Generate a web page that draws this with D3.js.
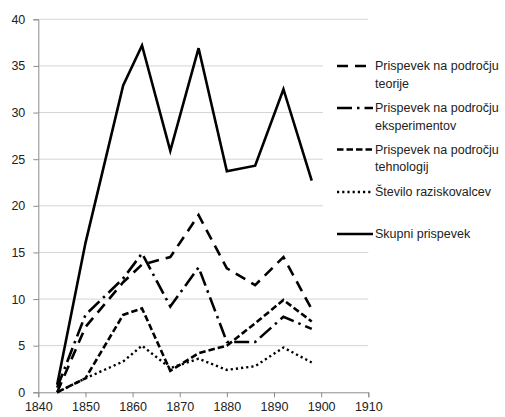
<!DOCTYPE html>
<html>
<head>
<meta charset="utf-8">
<script src="https://cdn.jsdelivr.net/npm/d3@7"></script>
<style>
  body { margin: 0; background: #fff; }
  svg { display: block; }
  text { font-family: "Liberation Sans", Arial, sans-serif; fill: #222; }
</style>
</head>
<body>
<div id="chart"><svg></svg></div>
<script>
// --- DATA ---
const years = [1844, 1850, 1858, 1862, 1868, 1874, 1880, 1886, 1892, 1898];
const teorije = [0, 7.0, 11.8, 13.7, 14.5, 19.0, 13.3, 11.5, 14.5, 8.9];
const eksperimentov = [0.5, 8.3, 12.2, 14.9, 9.2, 13.4, 5.4, 5.4, 8.1, 6.8];
const tehnologij = [0, 1.5, 8.3, 9.0, 2.3, 4.2, 5.0, 7.4, 9.9, 7.6];
const raziskovalci = [0, 1.5, 3.3, 5.0, 2.6, 3.6, 2.4, 2.8, 4.8, 3.2];
const skupni = [0.8, 16.0, 32.9, 37.2, 25.9, 36.9, 23.7, 24.3, 32.5, 22.7];

const seriesNames = [
  ["Prispevek na področju", "teorije"],
  ["Prispevek na področju", "eksperimentov"],
  ["Prispevek na področju", "tehnologij"],
  ["Število raziskovalcev"],
  ["Skupni prispevek"]
];
const xTicks = [1840, 1850, 1860, 1870, 1880, 1890, 1900, 1910];
const yTicks = [0, 5, 10, 15, 20, 25, 30, 35, 40];

// --- SETUP ---
const width = 505, height = 417;
const margin = { top: 19.3, right: 136.7, bottom: 24.7, left: 38.3 };

const svg = d3.select("#chart svg")
  .attr("width", width)
  .attr("height", height);

const x = d3.scaleLinear().domain([1840, 1910]).range([margin.left, width - margin.right]);
const y = d3.scaleLinear().domain([0, 40]).range([height - margin.bottom, margin.top]);

// line styles, one per series
const styles = [
  { dash: "11,7", w: 2.6 },
  { dash: "15,5,2.5,5", w: 2.6 },
  { dash: "6.5,3", w: 2.6 },
  { dash: "2.2,3", w: 2.4 },
  { dash: null, w: 2.6 }
];
const allSeries = [teorije, eksperimentov, tehnologij, raziskovalci, skupni];

// --- GRIDLINES ---
svg.append("g")
  .selectAll("line")
  .data(yTicks.filter(t => t > 0))
  .join("line")
  .attr("x1", x(1840))
  .attr("x2", x(1910))
  .attr("y1", d => y(d))
  .attr("y2", d => y(d))
  .attr("stroke", "#d4d4d4")
  .attr("stroke-width", 1);

// --- AXES ---
const yAxis = svg.append("g")
  .attr("transform", `translate(${x(1840)},0)`)
  .call(d3.axisLeft(y).tickValues(yTicks).tickSize(5).tickPadding(8));
const xAxis = svg.append("g")
  .attr("transform", `translate(0,${y(0)})`)
  .call(d3.axisBottom(x).tickValues(xTicks).tickFormat(d3.format("d")).tickSize(5).tickPadding(5));

[yAxis, xAxis].forEach(ax => {
  ax.select(".domain").attr("stroke", "#8c8c8c");
  ax.selectAll(".tick line").attr("stroke", "#8c8c8c");
  ax.selectAll("text").attr("font-size", "12.5px").attr("fill", "#222")
    .attr("font-family", "'Liberation Sans', Arial, sans-serif");
});

// --- LEGEND BACKGROUND (covers gridlines as in the original) ---
svg.append("rect")
  .attr("x", 323).attr("y", 45)
  .attr("width", width - 323).attr("height", 203)
  .attr("fill", "#fff");

// --- LINES ---
const line = d3.line()
  .x((d, i) => x(years[i]))
  .y(d => y(d));

svg.append("g")
  .selectAll("path")
  .data(allSeries)
  .join("path")
  .attr("d", d => line(d))
  .attr("fill", "none")
  .attr("stroke", "#000")
  .attr("stroke-width", (d, i) => styles[i].w)
  .attr("stroke-dasharray", (d, i) => styles[i].dash)
  .attr("stroke-linejoin", "miter");

// --- LEGEND ---
const legendY = [66, 108, 149.5, 192, 234];
const legend = svg.append("g").attr("class", "legend");
seriesNames.forEach((name, i) => {
  const g = legend.append("g").attr("transform", `translate(0,${legendY[i]})`);
  g.append("line")
    .attr("x1", 337).attr("x2", 373)
    .attr("y1", 0).attr("y2", 0)
    .attr("stroke", "#000")
    .attr("stroke-width", styles[i].w)
    .attr("stroke-dasharray", styles[i].dash);
  name.forEach((t, j) => {
    g.append("text")
      .attr("x", 375)
      .attr("y", j * 17.5)
      .attr("dy", "0.35em")
      .attr("font-size", "12.5px")
      .text(t);
  });
});
</script>
</body>
</html>
